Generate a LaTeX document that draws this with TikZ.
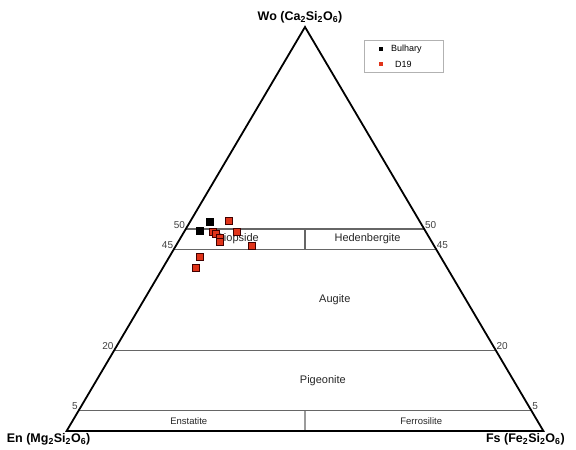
\documentclass[tikz,border=0pt]{standalone}
\usepackage{fontspec}
\setmainfont{Liberation Sans}
\usetikzlibrary{calc,positioning}
\definecolor{dnineteen}{RGB}{224,52,26}
\begin{document}
\begin{tikzpicture}[x=1pt,y=1pt]
        \tikzstyle{corner}=[font=\bfseries\fontsize{12.5}{14}\selectfont,inner sep=0pt]
        \tikzstyle{tick}=[font=\fontsize{10}{12}\selectfont,text=black!75,inner sep=0.6pt]
        \tikzstyle{field}=[font=\fontsize{11}{13}\selectfont,text=black!85,inner sep=0pt]
        \tikzstyle{endfield}=[font=\fontsize{9.5}{11}\selectfont,text=black!85,inner sep=0pt]
        \tikzstyle{divide}=[draw=black!60,line width=1.2pt]
        \tikzstyle{bul}=[rectangle,draw=black,fill=black,minimum size=7pt,inner sep=0pt]
        \tikzstyle{dnt}=[rectangle,draw=black!75!red,fill=dnineteen,line width=0.6pt,minimum size=7pt,inner sep=0pt]
        \useasboundingbox (0,0) rectangle (576,450);
        \coordinate (wo) at (305,423);
        \coordinate (en) at (66.6,19);
        \coordinate (fs) at (543.4,19);
        % lines of equal Wo
        \foreach \f/\n in {0.5/50,0.45/45,0.2/20,0.05/5} {
            \coordinate (l\n) at ($(en)!\f!(wo)$);
            \coordinate (r\n) at ($(fs)!\f!(wo)$);
            \draw[divide] (l\n) -- (r\n);
            \node[tick,anchor=south east] (tl\n) at (l\n) {\n};
            \node[tick,anchor=south west] (tr\n) at (r\n) {\n};
        }
        \draw[divide] ($(l50)!0.5!(r50)$) -- ($(l45)!0.5!(r45)$);
        \draw[divide] ($(l5)!0.5!(r5)$) -- ($(en)!0.5!(fs)$);
        \draw[line width=1.8pt] (en) -- (wo) -- (fs) -- cycle;
        % fields
        \coordinate (bl) at ($(l50)!0.5!(l45)$);
        \coordinate (br) at ($(r50)!0.5!(r45)$);
        \coordinate (el) at ($(l5)!0.5!(en)$);
        \coordinate (er) at ($(r5)!0.5!(fs)$);
        \node[field,xshift=-5pt] (di) at ($(bl)!0.5!(bl -| wo)$) {Diopside};
        \node[field] (hd) at ($(br)!0.5!(br -| wo)$) {Hedenbergite};
        \node[field] (au) at ($(l45)!0.5!(r20)$) {Augite};
        \node[field] (pg) at ($(l20)!0.5!(r5)$) {Pigeonite};
        \node[endfield] (es) at ($(el)!0.5!(el -| wo)$) {Enstatite};
        \node[endfield] (fr) at ($(er)!0.5!(er -| wo)$) {Ferrosilite};
        % end members
        \node[corner,above=4pt of wo,xshift=-5pt] (wol) {Wo (Ca\textsubscript{2}Si\textsubscript{2}O\textsubscript{6})};
        \node[corner] (enl) at ($(en)+(-18,-8)$) {En (Mg\textsubscript{2}Si\textsubscript{2}O\textsubscript{6})};
        \node[corner] (fsl) at ($(fs)+(-18,-8)$) {Fs (Fe\textsubscript{2}Si\textsubscript{2}O\textsubscript{6})};
        % analyses
        \foreach \px/\py [count=\i] in {209.3/228.3,200/219}
            \node[bul] (b\i) at (\px,\py) {};
        \foreach \px/\py [count=\i] in {228.3/229.3,212.7/218.3,216/215.7,220/212.3,219.3/207.7,236.7/218.3,251.7/204.3,200/192.7,195.7/182.3}
            \node[dnt] (d\i) at (\px,\py) {};
        % legend
        \draw[black!30,line width=0.5pt] (364,378) rectangle (443,410);
        \node[rectangle,fill=black,minimum size=3.5pt,inner sep=0pt] (lgb) at (381,401) {};
        \node[rectangle,fill=dnineteen,minimum size=3.5pt,inner sep=0pt] (lgd) at (381,386) {};
        \node[font=\fontsize{9}{10}\selectfont,anchor=west,inner sep=0pt] (lgbt) at (391,401) {Bulhary};
        \node[font=\fontsize{9}{10}\selectfont,anchor=west,inner sep=0pt] (lgdt) at (395,386) {D19};
\end{tikzpicture}
\end{document}
